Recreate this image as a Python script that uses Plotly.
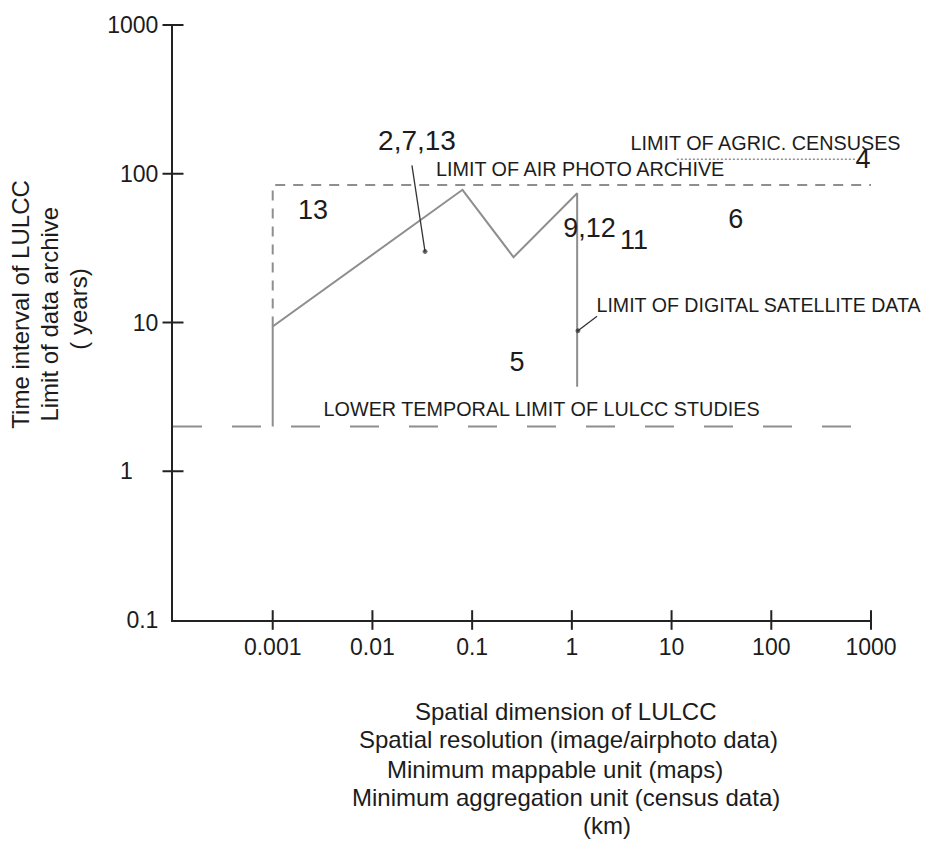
import math
import plotly.graph_objects as go

FONT = "Liberation Sans, Arial, Helvetica, sans-serif"
TXT = "#1c1c1c"
GRAY = "#8e8e8e"

# ---- axis ticks ----
x_tick_vals = [0.001, 0.01, 0.1, 1, 10, 100, 1000]
x_tick_text = ["0.001", "0.01", "0.1", "1", "10", "100", "1000"]
y_tick_vals = [0.1, 1, 10, 100, 1000]
y_tick_text = ["0.1", "1\u00a0\u00a0\u00a0\u00a0", "10", "100", "1000"]
y_tick_marks = [1, 10, 100, 1000]

# ---- LULCC envelope (solid polyline) ----
env_x = [0.001, 0.001, 0.08, 0.26, 1.13, 1.13]
env_y = [2.0, 9.4, 78, 27.5, 74, 3.7]

# ---- limit of air photo archive (dashed) ----
air_x = [0.001, 0.001, 1000]
air_y = [9.4, 84, 84]

# ---- limit of agricultural censuses (dotted) ----
agric_x = [11.3, 700]
agric_y = [125, 125]

# ---- lower temporal limit of LULCC studies (long dash) ----
lower_x = [0.0001, 646]
lower_y = [2.0, 2.0]

# ---- leader lines ----
ptr1_x = [0.0249, 0.0337]
ptr1_y = [114, 30]
ptr2_x = [1.79, 1.15]
ptr2_y = [11.0, 8.8]

# ---- in-plot labels ----
label_text = ["2,7,13", "13", "9,12", "11", "6", "4", "5",
              "LIMIT OF AIR PHOTO ARCHIVE", "LIMIT OF AGRIC. CENSUSES",
              "LIMIT OF DIGITAL SATELLITE DATA",
              "LOWER TEMPORAL LIMIT OF LULCC STUDIES"]
label_x = [0.028, 0.00254, 1.50, 4.2, 44, 832, 0.282, 1.21, 87.5, 74.5, 0.497]
label_y = [162, 55.5, 41.8, 34.5, 47.6, 121, 5.26, 104, 155, 12.6, 2.52]
label_size = [28, 27, 27, 27, 27, 27, 27, 19.8, 19.8, 19.6, 19.8]

fig = go.Figure()

fig.add_trace(go.Scatter(x=lower_x, y=lower_y, mode="lines",
                         line=dict(color=GRAY, width=2, dash="29px,30px"),
                         cliponaxis=False, hoverinfo="skip"))
fig.add_trace(go.Scatter(x=air_x, y=air_y, mode="lines",
                         line=dict(color=GRAY, width=2, dash="10px,8px"),
                         cliponaxis=False, hoverinfo="skip"))
fig.add_trace(go.Scatter(x=agric_x, y=agric_y, mode="lines",
                         line=dict(color=GRAY, width=1.5, dash="2px,2px"),
                         cliponaxis=False, hoverinfo="skip"))
fig.add_trace(go.Scatter(x=env_x, y=env_y, mode="lines",
                         line=dict(color=GRAY, width=2),
                         cliponaxis=False, hoverinfo="skip"))
for px, py in [(ptr1_x, ptr1_y), (ptr2_x, ptr2_y)]:
    fig.add_trace(go.Scatter(x=px, y=py, mode="lines+markers",
                             line=dict(color="#333333", width=1.3),
                             marker=dict(size=[0, 4], color="#222222"),
                             cliponaxis=False, hoverinfo="skip"))

# crossing tick marks
fig.add_trace(go.Scatter(x=[0.0001] * len(y_tick_marks), y=y_tick_marks, mode="markers",
                         marker=dict(symbol="line-ew", size=15,
                                     line=dict(color="#222222", width=2)),
                         cliponaxis=False, hoverinfo="skip"))
fig.add_trace(go.Scatter(x=x_tick_vals, y=[0.1] * len(x_tick_vals), mode="markers",
                         marker=dict(symbol="line-ns", size=14,
                                     line=dict(color="#222222", width=2)),
                         cliponaxis=False, hoverinfo="skip"))

fig.add_trace(go.Scatter(x=label_x, y=label_y, mode="text", text=label_text,
                         textposition="middle center",
                         textfont=dict(family=FONT, size=label_size, color=TXT),
                         cliponaxis=False, hoverinfo="skip"))

# axis titles as annotations (pixel-derived paper positions)
L, R, T, B = 173, 62, 18, 222
W, H = 933, 842
pw, ph = W - L - R, H - T - B

def px2paper(x, y):
    return (x - L) / pw, (H - B - y) / ph

annotations = []
x_title_lines = ["Spatial dimension of LULCC",
                 "Spatial resolution (image/airphoto data)",
                 "Minimum mappable unit (maps)",
                 "Minimum aggregation unit (census data)",
                 "(km)"]
x_title_px = [(566, 713), (568, 741), (555, 771), (566, 800), (607, 828)]
for t, (px, py) in zip(x_title_lines, x_title_px):
    ax, ay = px2paper(px, py)
    annotations.append(dict(text=t, x=ax, y=ay, xref="paper", yref="paper",
                            xanchor="center", yanchor="middle", showarrow=False,
                            font=dict(family=FONT, size=24, color=TXT)))

y_title_lines = ["Time interval of LULCC", "Limit of data archive", "( years)"]
y_title_px = [(21, 301), (50, 311), (79, 306)]
for t, (px, py) in zip(y_title_lines, y_title_px):
    ax, ay = px2paper(px, py)
    annotations.append(dict(text=t, x=ax, y=ay, xref="paper", yref="paper",
                            xanchor="center", yanchor="middle", showarrow=False,
                            textangle=-90,
                            font=dict(family=FONT, size=24, color=TXT)))

fig.update_layout(
    width=W, height=H, autosize=False,
    margin=dict(l=L, r=R, t=T, b=B, pad=0),
    paper_bgcolor="white", plot_bgcolor="white",
    showlegend=False,
    font=dict(family=FONT, color=TXT),
    annotations=annotations,
    xaxis=dict(type="log", range=[-4, 3], showgrid=False, zeroline=False,
               showline=True, linecolor="#222222", linewidth=2,
               tickmode="array", tickvals=x_tick_vals, ticktext=x_tick_text,
               ticks="", ticklabelstandoff=5,
               tickfont=dict(family=FONT, size=23, color=TXT)),
    yaxis=dict(type="log", range=[-1, 3], showgrid=False, zeroline=False,
               showline=True, linecolor="#222222", linewidth=2,
               tickmode="array", tickvals=y_tick_vals, ticktext=y_tick_text,
               ticks="", ticklabelstandoff=8,
               tickfont=dict(family=FONT, size=23, color=TXT)),
)

fig.write_html("out.html")
